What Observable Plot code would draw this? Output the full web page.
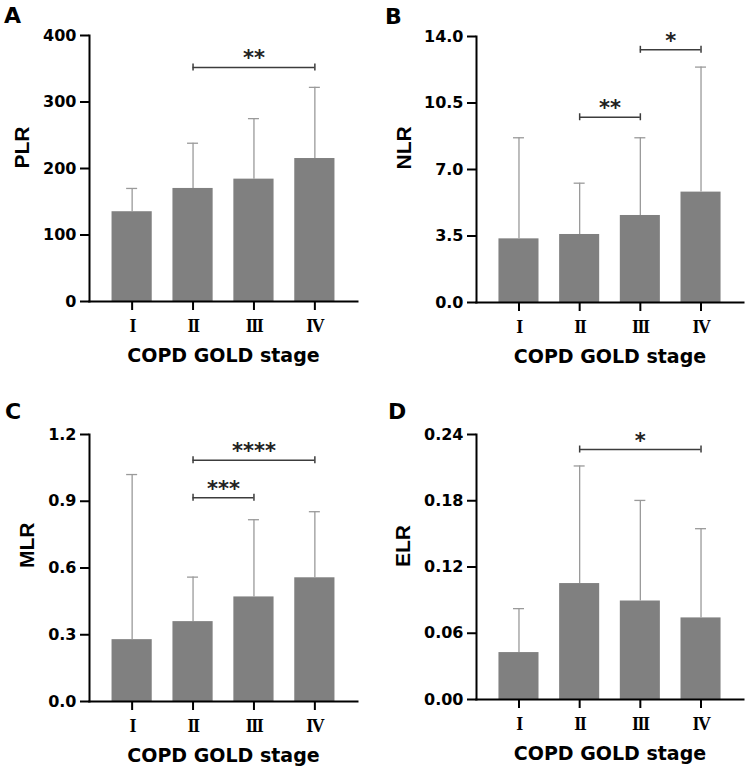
<!DOCTYPE html>
<html>
<head>
<meta charset="utf-8">
<script src="https://cdn.jsdelivr.net/npm/d3@7"></script>
<script src="https://cdn.jsdelivr.net/npm/@observablehq/plot@0.6"></script>
<style>
  body { margin: 0; background: #fff; }
  #wrap { position: relative; width: 750px; height: 778px; overflow: hidden; }
  .panel { position: absolute; }
  .letter { position: absolute; font: bold 22px "DejaVu Sans"; line-height: 1; color: #000; }
  g[aria-label="x-axis tick label"] text { letter-spacing: -1.5px; }
</style>
</head>
<body>
<div id="wrap"></div>
<script>
var stages = ["I", "II", "III", "IV"]

// PLR
var plr_mean = [135, 170, 184, 215]
var plr_sd = [35, 68, 91, 107]
var plr_sig = [{from: 2, to: 4, y: 352, stars: "**"}]

// NLR
var nlr_mean = [3.35, 3.58, 4.58, 5.81]
var nlr_sd = [5.32, 2.70, 4.09, 6.58]
var nlr_sig = [{from: 2, to: 3, y: 9.75, stars: "**"}, {from: 3, to: 4, y: 13.3, stars: "*"}]

// MLR
var mlr_mean = [0.278, 0.359, 0.470, 0.556]
var mlr_sd = [0.742, 0.200, 0.347, 0.297]
var mlr_sig = [{from: 2, to: 4, y: 1.084, stars: "****"}, {from: 2, to: 3, y: 0.916, stars: "***"}]

// ELR
var elr_mean = [0.0425, 0.105, 0.0892, 0.0739]
var elr_sd = [0.0398, 0.1065, 0.0911, 0.0808]
var elr_sig = [{from: 2, to: 4, y: 0.2264, stars: "*"}]

var plr_ticks = [0, 100, 200, 300, 400]
var nlr_ticks = [0, 3.5, 7, 10.5, 14]
var mlr_ticks = [0, 0.3, 0.6, 0.9, 1.2]
var elr_ticks = [0, 0.06, 0.12, 0.18, 0.24]

function makePanel(p) {
    let rows = stages.map((s, i) => ({pos: i + 1, mean: p.mean[i], hi: p.mean[i] + p.sd[i]}))
    let caps = p.sig.flatMap(b => [{x: b.from, y: b.y}, {x: b.to, y: b.y}])
    const ink = "#3c3c3c"
    const err = "#9a9a9a"

    return Plot.plot({
        width: 375,
        height: p.height,
        marginLeft: p.left,
        marginRight: p.right,
        marginTop: p.top,
        marginBottom: p.bottom,
        style: {background: "white", fontFamily: "DejaVu Sans", color: "black", overflow: "visible"},
        x: {domain: [0.3, 4.7]},
        y: {domain: [0, p.ticks[p.ticks.length - 1]]},
        marks: [
            Plot.rectY(rows, {x1: d => d.pos - 0.33, x2: d => d.pos + 0.33, y1: 0, y2: "mean", fill: "#808080"}),
            Plot.ruleX(rows, {x: "pos", y1: "mean", y2: "hi", stroke: err, strokeWidth: 1.3}),
            Plot.ruleY(rows, {x1: "pos", x2: "pos", y: "hi", insetLeft: -5.5, insetRight: -5.5, stroke: err, strokeWidth: 1.3}),
            Plot.ruleY(p.sig, {x1: "from", x2: "to", y: "y", stroke: ink, strokeWidth: 1.5}),
            Plot.ruleX(caps, {x: "x", y1: "y", y2: "y", insetTop: -3.5, insetBottom: -3.5, stroke: ink, strokeWidth: 1.5}),
            Plot.text(p.sig, {x: d => (d.from + d.to) / 2, y: "y", text: "stars", lineAnchor: "bottom", dy: -2,
                fontSize: 21, fontWeight: "bold", fontFamily: "DejaVu Sans", fill: "#222"}),
            Plot.frame({anchor: "left", stroke: "black", strokeWidth: 2}),
            Plot.frame({anchor: "bottom", stroke: "black", strokeWidth: 2}),
            Plot.axisY({ticks: p.ticks, tickFormat: p.fmt, tickSize: 9, tickPadding: 4, strokeWidth: 2,
                fontSize: 16, fontWeight: "bold", fontFamily: "DejaVu Sans", label: null}),
            Plot.axisX({ticks: [1, 2, 3, 4], tickFormat: i => stages[i - 1], tickSize: 9, tickPadding: 9, strokeWidth: 2,
                fontSize: 18, fontWeight: "bold", fontFamily: "Liberation Serif", label: null}),
            Plot.text([p.ylabel], {frameAnchor: "left", rotate: -90, dx: p.ydx,
                fontSize: 21, fontWeight: "bold", fontFamily: "Liberation Sans"}),
            Plot.text(["COPD GOLD stage"], {frameAnchor: "bottom", dy: 60,
                fontSize: 19, fontWeight: "bold", fontFamily: "DejaVu Sans"})
        ]
    })
}

var panels = [
    {letter: "A", lx: 4, ly: 5, px: 0, py: 0, height: 390, left: 89, right: 18, top: 35, bottom: 89,
     mean: plr_mean, sd: plr_sd, sig: plr_sig, ticks: plr_ticks, fmt: d3.format("d"), ylabel: "PLR", ydx: -67},
    {letter: "B", lx: 385, ly: 6, px: 375, py: 0, height: 390, left: 101, right: 7, top: 36, bottom: 88,
     mean: nlr_mean, sd: nlr_sd, sig: nlr_sig, ticks: nlr_ticks, fmt: d3.format(".1f"), ylabel: "NLR", ydx: -72},
    {letter: "C", lx: 5, ly: 401, px: 0, py: 390, height: 388, left: 89, right: 18, top: 44, bottom: 77,
     mean: mlr_mean, sd: mlr_sd, sig: mlr_sig, ticks: mlr_ticks, fmt: d3.format(".1f"), ylabel: "MLR", ydx: -62},
    {letter: "D", lx: 388, ly: 401, px: 375, py: 390, height: 388, left: 101, right: 7, top: 44, bottom: 79,
     mean: elr_mean, sd: elr_sd, sig: elr_sig, ticks: elr_ticks, fmt: d3.format(".2f"), ylabel: "ELR", ydx: -73}
]

var wrap = document.getElementById("wrap")
panels.forEach(p => {
    let div = document.createElement("div")
    div.className = "panel"
    div.style.left = p.px + "px"
    div.style.top = p.py + "px"
    div.append(makePanel(p))
    wrap.append(div)

    let lab = document.createElement("div")
    lab.className = "letter"
    lab.style.left = p.lx + "px"
    lab.style.top = p.ly + "px"
    lab.textContent = p.letter
    wrap.append(lab)
})
</script>
</body>
</html>
